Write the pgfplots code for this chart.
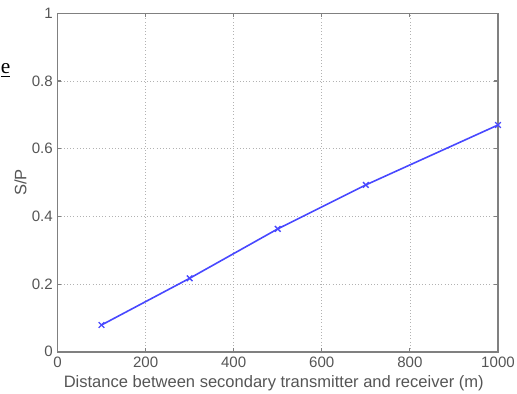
\documentclass[border=0pt]{standalone}
\usepackage{fontspec}
\setmainfont{Liberation Sans}
\newfontfamily\seriffont{Liberation Serif}
\usepackage{pgfplots}
\pgfplotsset{compat=1.18}
\usetikzlibrary{calc}
\definecolor{txtgray}{HTML}{555555}
\definecolor{axgray}{HTML}{808080}
\definecolor{lineblue}{HTML}{4848FF}
\begin{document}
\begin{tikzpicture}
\begin{axis}[
  scale only axis,
  width=330.4pt, height=253.8pt,
  xmin=0, xmax=1000, ymin=0, ymax=1,
  xtick={0,200,400,600,800,1000},
  xticklabels={0,200,400,600,800,1000},
  ytick={0,0.2,0.4,0.6,0.8,1},
  yticklabels={0,0.2,0.4,0.6,0.8,1},
  tick align=inside,
  tick pos=both,
  major tick length=3pt,
  grid=major,
  major grid style={dotted, gray!60, line width=0.5pt},
  axis line style={axgray, line width=1.2pt},
  tick style={axgray, line width=0.8pt},
  every tick label/.append style={font=\fontsize{11.3}{12}\selectfont, text=txtgray},
  /pgf/number format/assume math mode=true,
  scaled x ticks=false,
  xticklabel style={yshift=-0.5pt},
  xlabel={Distance between secondary transmitter and receiver (m)},
  ylabel={S/P},
  label style={font=\fontsize{12.4}{13}\selectfont, text=txtgray},
  xlabel style={yshift=1pt, xshift=-3pt},
  ylabel style={yshift=-3pt},
  clip=false,
]
\addplot[lineblue, line width=1.2pt, mark=x, mark size=3pt, mark options={solid, line width=1pt}]
  coordinates {(100,0.079) (300,0.217) (500,0.363) (700,0.493) (1000,0.670)};
\node[anchor=east, inner sep=0pt, font=\seriffont\fontsize{16}{17}\selectfont] at ($(rel axis cs:0,0.832)+(-35.2pt,0)$) {\underline{e}};
\end{axis}
\pgfresetboundingbox
\path[use as bounding box] ($(current axis.south west)+(-43.1pt,-31pt)$) rectangle ($(current axis.north east)+(14.25pt,10pt)$);
\end{tikzpicture}
\end{document}
